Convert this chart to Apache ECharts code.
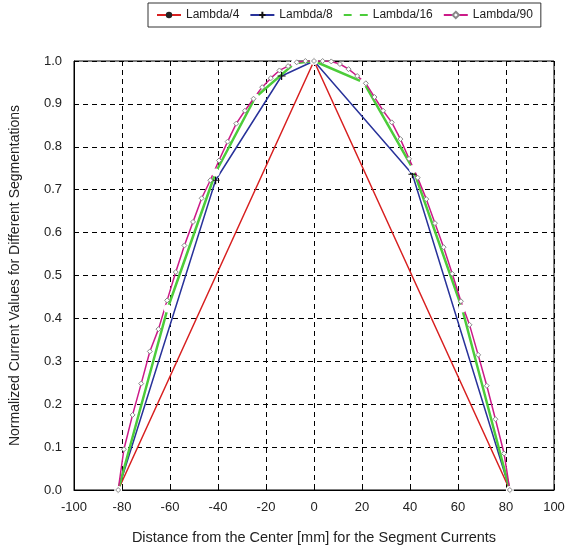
<!DOCTYPE html>
<html>
<head>
<meta charset="utf-8">
<script src="https://cdn.jsdelivr.net/npm/echarts@6/dist/echarts.min.js"></script>
<style>
    html, body { margin: 0; padding: 0; background: #fff; }
    #chart { width: 568px; height: 550px; }
</style>
</head>
<body>
<div id="chart"></div>
<script>
// values
const xQuarter = [-81.6, 0, 81.6];
const yQuarter = [0, 1, 0];

const xEighth = [-81.6, -41, -13.5, 0, 41, 81.6];
const yEighth = [0, 0.722, 0.965, 1, 0.736, 0];

const xSixteenth = [-81.6, -61, -41, -24.5, -8, 0, 20.7, 41.3, 61.7, 81.6];
const ySixteenth = [0, 0.423, 0.74, 0.915, 0.995, 1, 0.95, 0.748, 0.423, 0];

const xNinety = [
    -81.6, -79.2, -75.6, -72, -68.4, -64.8, -61.2, -57.6, -54, -50.4, -46.8, -43.2,
    -39.6, -36, -32.4, -28.8, -25.2, -21.6, -18, -14.4, -10.8, -7.2, -3.6, 0,
    3.6, 7.2, 10.8, 14.4, 18, 21.6, 25.2, 28.8, 32.4, 36, 39.6, 43.2,
    46.8, 50.4, 54, 57.6, 61.2, 64.8, 68.4, 72, 75.6, 79.2, 81.6
];
const yNinety = [
    0, 0.095, 0.175, 0.248, 0.323, 0.375, 0.442, 0.508, 0.57, 0.625, 0.68, 0.722,
    0.768, 0.812, 0.854, 0.884, 0.912, 0.939, 0.96, 0.978, 0.988, 0.997, 1, 1,
    1, 0.999, 0.993, 0.981, 0.965, 0.948, 0.916, 0.884, 0.857, 0.818, 0.772, 0.728,
    0.678, 0.622, 0.566, 0.504, 0.44, 0.385, 0.315, 0.243, 0.165, 0.085, 0
];

const names = ['Lambda/4', 'Lambda/8', 'Lambda/16', 'Lambda/90'];

const pairs = (xs, ys) => xs.map((x, i) => [x, ys[i]]);

const axisText = {
    color: '#222',
    fontSize: 13,
    fontFamily: 'Liberation Sans'
};

const chart = echarts.init(document.getElementById('chart'));
const option = {
    animation: false,
    textStyle: { fontFamily: 'Liberation Sans' },
    legend: {
        data: names,
        left: 148,
        top: 3,
        width: 420,
        padding: [6, 8, 6, 8],
        borderColor: '#333',
        borderWidth: 1,
        itemWidth: 24,
        itemHeight: 8,
        itemGap: 10,
        textStyle: { color: '#222', fontSize: 12 }
    },
    grid: {
        left: 72,
        right: 14,
        top: 61,
        bottom: 57,
        show: true,
        borderColor: '#000',
        borderWidth: 1
    },
    xAxis: {
        type: 'value',
        min: -100,
        max: 100,
        interval: 20,
        name: 'Distance from the Center [mm] for the Segment Currents',
        nameLocation: 'middle',
        nameGap: 40,
        nameTextStyle: Object.assign({}, axisText, { fontSize: 14.5 }),
        axisLine: { onZero: false, lineStyle: { color: '#000' } },
        axisTick: { inside: true, length: 5, lineStyle: { color: '#000' } },
        axisLabel: Object.assign({ margin: 11 }, axisText),
        splitLine: { lineStyle: { color: '#000', type: [5, 4] } }
    },
    yAxis: {
        type: 'value',
        min: 0,
        max: 1,
        interval: 0.1,
        name: 'Normalized Current Values for Different Segmentations',
        nameLocation: 'middle',
        nameGap: 52,
        nameTextStyle: Object.assign({}, axisText, { fontSize: 14 }),
        axisLine: { show: true, onZero: false, lineStyle: { color: '#000' } },
        axisTick: { inside: true, length: 5, lineStyle: { color: '#000' } },
        axisLabel: Object.assign({ margin: 12, formatter: v => v.toFixed(1) }, axisText),
        splitLine: { lineStyle: { color: '#000', type: [5, 4] } }
    },
    series: [
        {
            name: 'Lambda/4',
            type: 'line',
            data: pairs(xQuarter, yQuarter),
            symbol: 'circle',
            symbolSize: 5,
            color: '#d82020',
            itemStyle: { color: '#222' },
            lineStyle: { color: '#d82020', width: 1.5 }
        },
        {
            name: 'Lambda/8',
            type: 'line',
            data: pairs(xEighth, yEighth),
            symbol: 'path://M0,5L10,5M5,0L5,10',
            symbolSize: 8,
            color: '#28329a',
            itemStyle: { color: '#28329a', borderColor: '#111', borderWidth: 1.2 },
            lineStyle: { color: '#28329a', width: 1.5 }
        },
        {
            name: 'Lambda/16',
            type: 'line',
            data: pairs(xSixteenth, ySixteenth),
            symbol: 'emptyCircle',
            symbolSize: 6,
            color: '#4ccc3a',
            itemStyle: { color: '#fff', borderColor: '#444', borderWidth: 1 },
            lineStyle: { color: '#4ccc3a', width: 2.5 }
        },
        {
            name: 'Lambda/90',
            type: 'line',
            data: pairs(xNinety, yNinety),
            symbol: 'diamond',
            symbolSize: 5,
            color: '#cc1a88',
            itemStyle: { color: '#fff', borderColor: '#888', borderWidth: 1 },
            lineStyle: { color: '#cc1a88', width: 1.5 }
        }
    ]
};
chart.setOption(option);
</script>
</body>
</html>
